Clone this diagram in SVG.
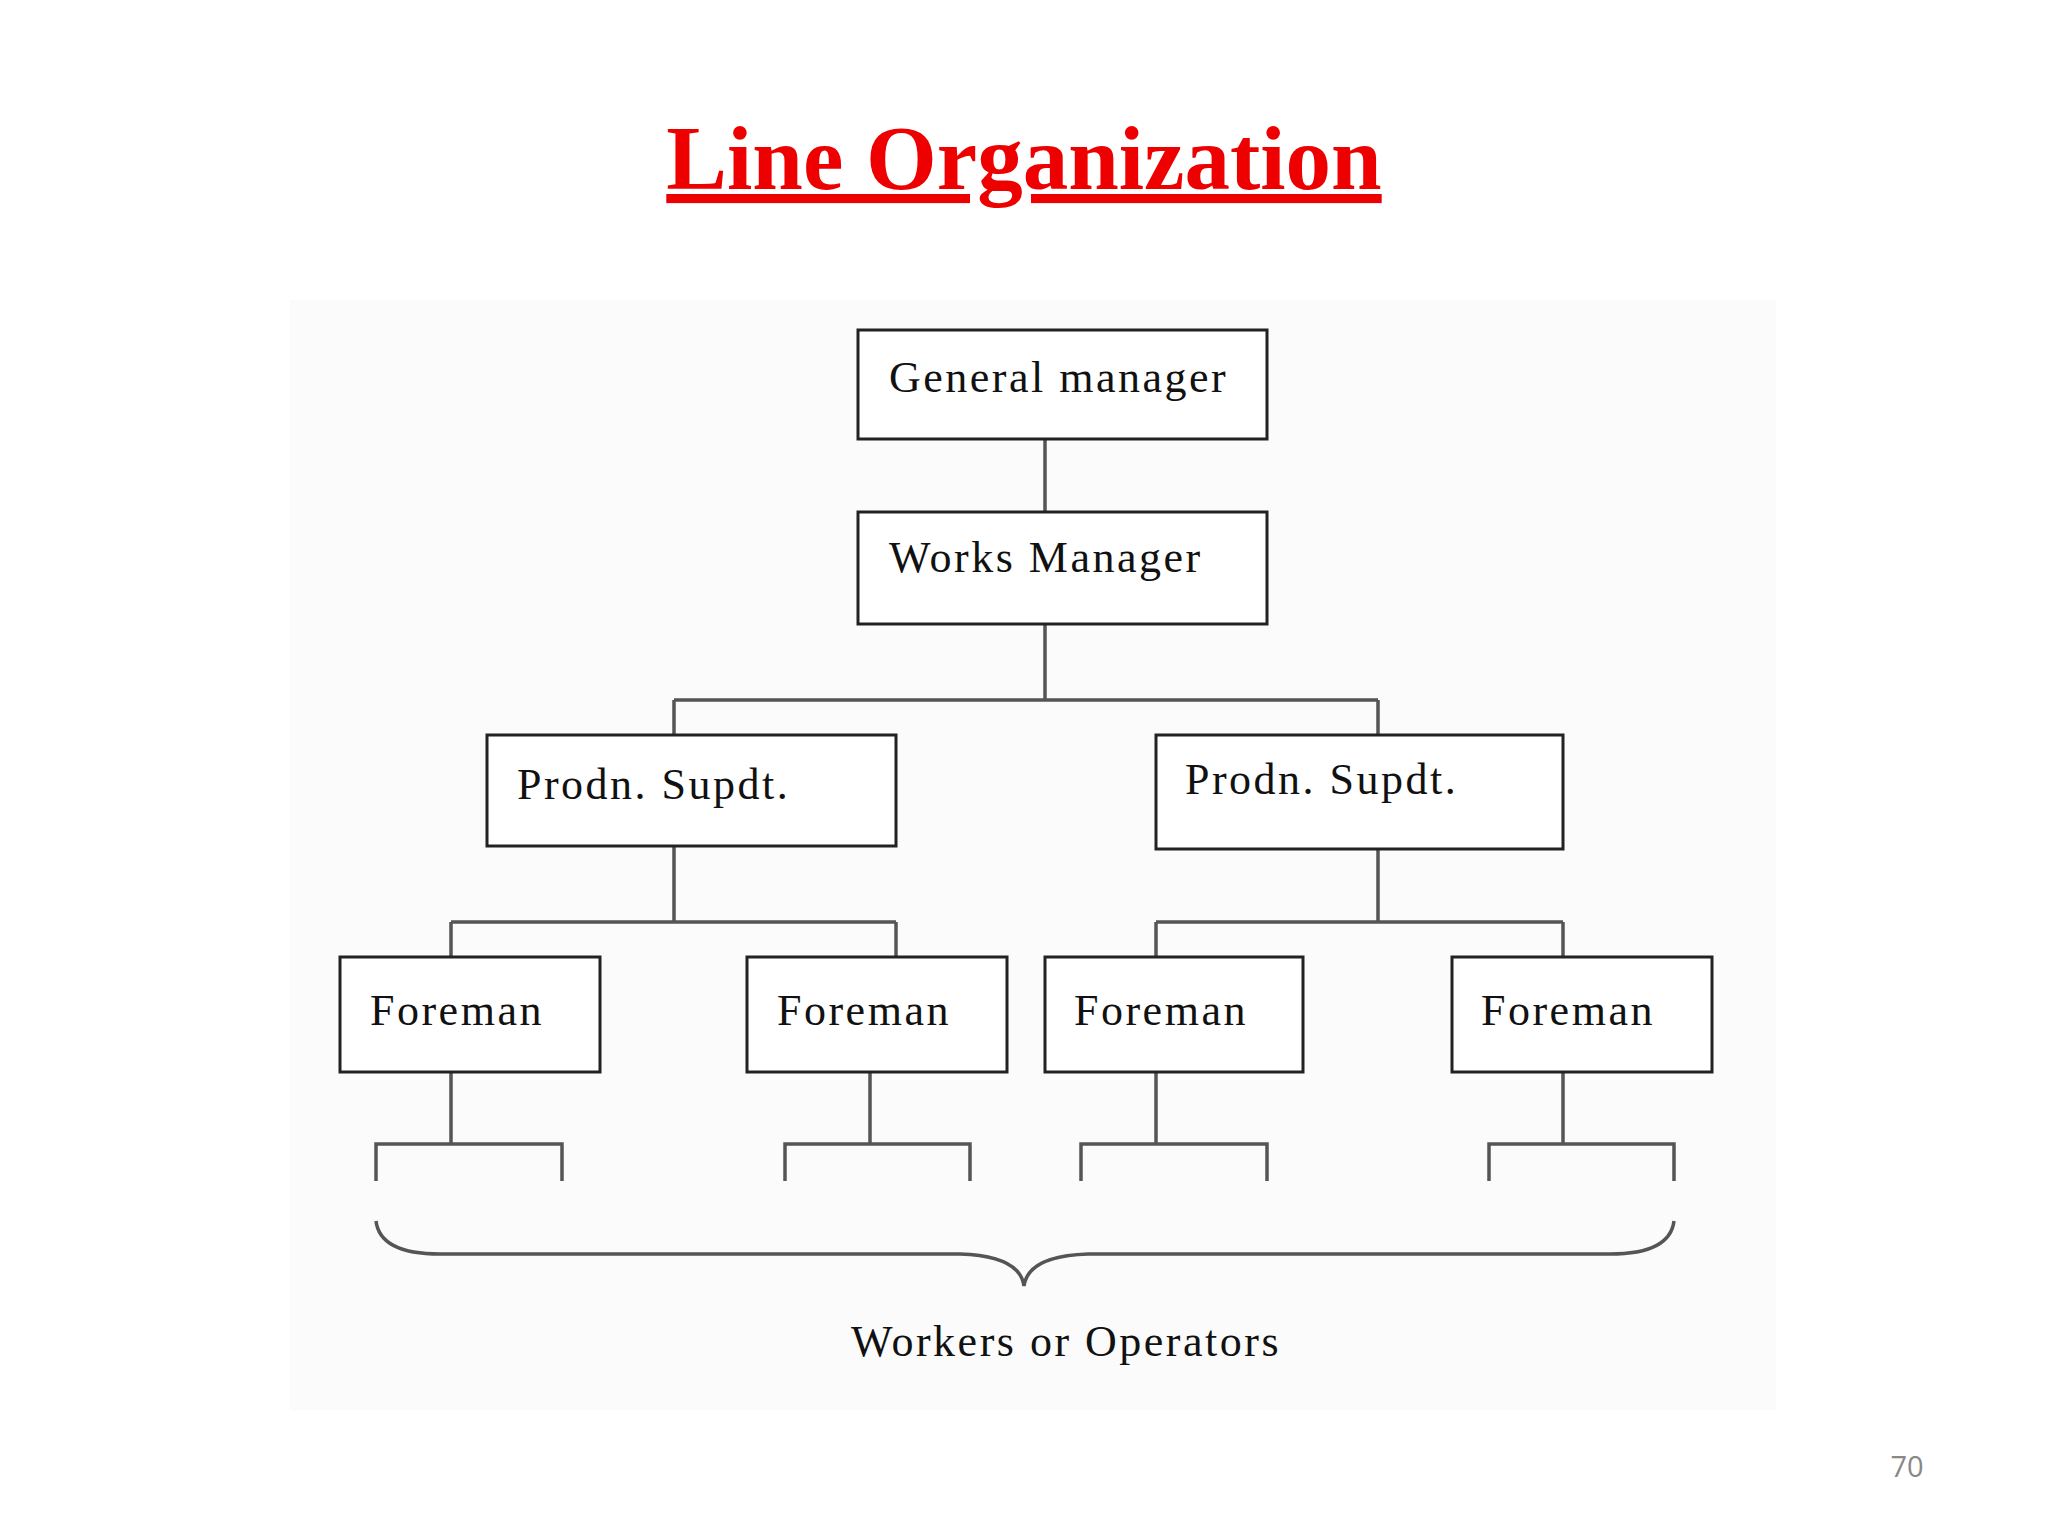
<svg xmlns="http://www.w3.org/2000/svg" width="2048" height="1536" viewBox="0 0 2048 1536">
<style>
.box{fill:#fff;stroke:#222;stroke-width:3}
.t{font-family:"Liberation Serif",serif;font-size:44px;fill:#111;letter-spacing:2.5px}
.c{stroke:#555;stroke-width:3.5;fill:none}
</style>
<rect width="2048" height="1536" fill="#fff"/>
<rect x="290" y="300" width="1486" height="1110" fill="#fbfbfb"/>
<text x="1024" y="189" text-anchor="middle" font-family="Liberation Serif,serif" font-weight="bold" font-size="91" fill="#ee0000" text-decoration="underline">Line Organization</text>
<g id="connectors">
<path class="c" d="M1045 439V512M1045 624V700M674 700H1378M674 700V735M1378 700V735"/>
<path class="c" d="M674 846V922M451 922H896M451 922V957M896 922V957"/>
<path class="c" d="M1378 849V922M1156 922H1563M1156 922V957M1563 922V957"/>
<path class="c" d="M451 1072V1144M376 1181V1144H562V1181"/>
<path class="c" d="M870 1072V1144M785 1181V1144H970V1181"/>
<path class="c" d="M1156 1072V1144M1081 1181V1144H1267V1181"/>
<path class="c" d="M1563 1072V1144M1489 1181V1144H1674V1181"/>
<path class="c" d="M376 1221Q380 1254 440 1254H960Q1020 1256 1024 1286Q1028 1256 1088 1254H1610Q1670 1254 1674 1221"/>
</g>
<g id="gm"><rect class="box" x="858" y="330" width="409" height="109"/><text class="t" x="889" y="392">General manager</text></g>
<g id="wm"><rect class="box" x="858" y="512" width="409" height="112"/><text class="t" x="889" y="572">Works Manager</text></g>
<g id="ps1"><rect class="box" x="487" y="735" width="409" height="111"/><text class="t" x="517" y="799">Prodn. Supdt.</text></g>
<g id="ps2"><rect class="box" x="1156" y="735" width="407" height="114"/><text class="t" x="1185" y="794">Prodn. Supdt.</text></g>
<g id="f1"><rect class="box" x="340" y="957" width="260" height="115"/><text class="t" x="370" y="1025">Foreman</text></g>
<g id="f2"><rect class="box" x="747" y="957" width="260" height="115"/><text class="t" x="777" y="1025">Foreman</text></g>
<g id="f3"><rect class="box" x="1045" y="957" width="258" height="115"/><text class="t" x="1074" y="1025">Foreman</text></g>
<g id="f4"><rect class="box" x="1452" y="957" width="260" height="115"/><text class="t" x="1481" y="1025">Foreman</text></g>
<g id="workers"><text class="t" x="1066" y="1356" text-anchor="middle">Workers or Operators</text></g>
<text x="1907" y="1477" font-family="Open Sans,sans-serif" font-size="29" fill="#888" text-anchor="middle">70</text>
</svg>
